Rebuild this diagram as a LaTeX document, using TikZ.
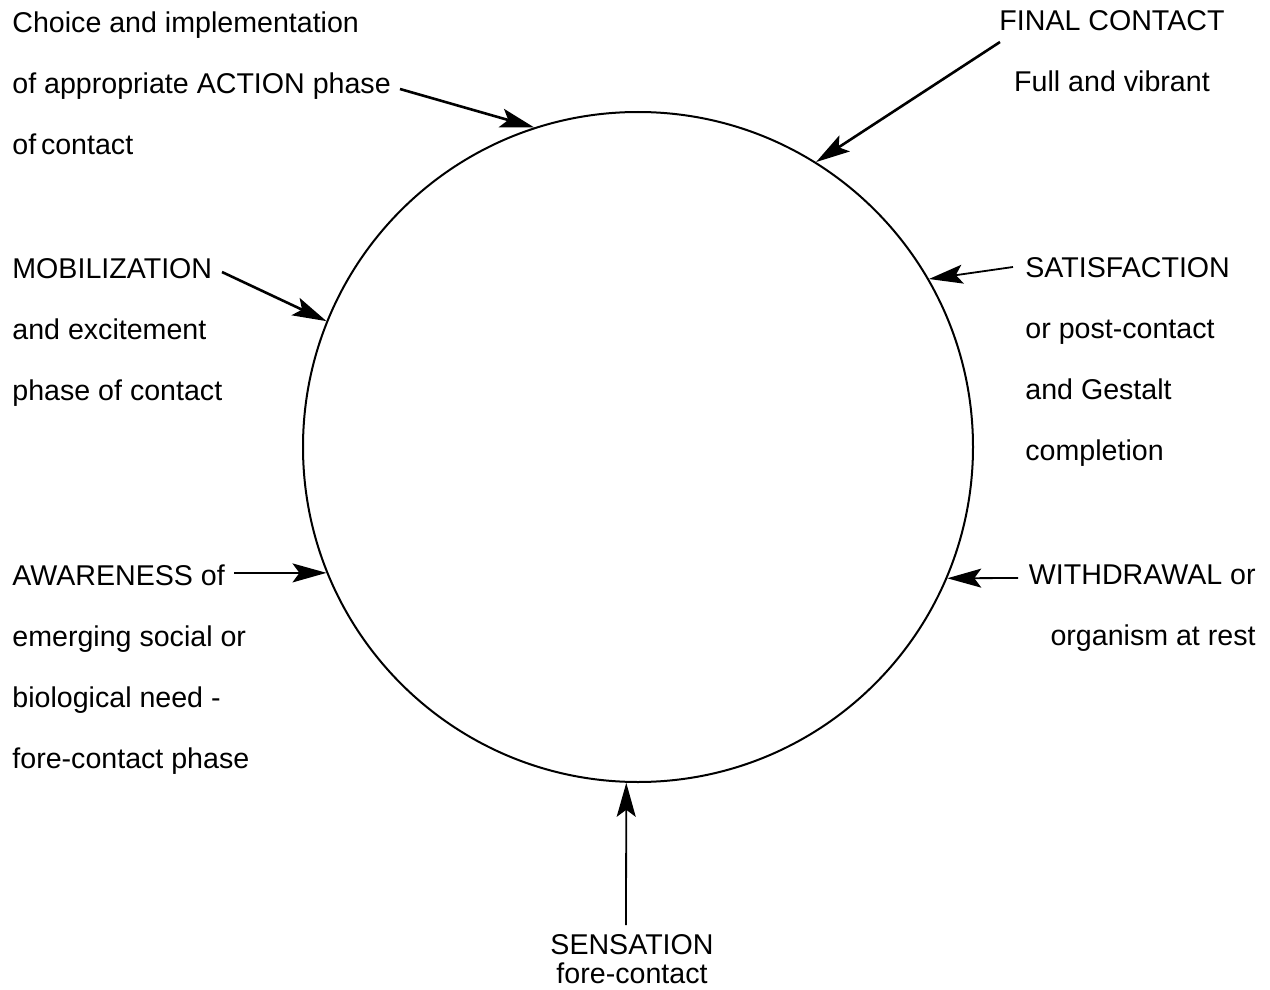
\documentclass[tikz,border=0pt]{standalone}
\usepackage{fontspec}
\setmainfont{Liberation Sans}
\usetikzlibrary{arrows.meta}
\newcommand{\phasefont}{\fontsize{14.3}{30.5}\selectfont}
\tikzset{phasetext/.style={ %{{{
  inner sep=0pt,
  font=\phasefont
}}
%}}}
\tikzset{phasearrow/.style={ %{{{
  -{Stealth[length=17pt,width=9.5pt,inset=3.5pt]},
  line width=0.9pt
}}
%}}}
\tikzset{slantarrow/.style={phasearrow,line width=1.3pt}}

\begin{document}
\begin{tikzpicture}[x=0.5pt,y=-0.5pt]
      \useasboundingbox (0,0) rectangle (1270,990);

      % Cycle {{{
      \node[circle,draw,line width=1pt,minimum size=335pt,inner sep=0pt]
        (cycle) at (638,447) {};
      % }}}

      % Left side (base = last line) {{{
      \node[phasetext,align=left,anchor=base west] (action) at (12,155)
        {Choice and implementation\\of appropriate ACTION phase\\of\,contact};
      \node[phasetext,align=left,anchor=base west] (mobil) at (12,400)
        {MOBILIZATION\\and excitement\\phase of contact};
      \node[phasetext,align=left,anchor=base west] (aware) at (12,768)
        {AWARENESS of\\emerging social or\\biological need -\\fore-contact phase};
      \coordinate (action-from) at (400,89);
      \coordinate (mobil-from) at (222,272);
      \coordinate (aware-from) at (234,573);
      % }}}

      % Right side {{{
      \node[phasetext,align=center,anchor=base] (final) at (1112,92)
        {FINAL CONTACT\\Full and vibrant};
      \node[phasetext,align=left,anchor=base west] (satis) at (1025,460)
        {SATISFACTION\\ or post-contact\\and Gestalt\\completion};
      \node[phasetext,align=right,anchor=base east] (withdr) at (1256,645)
        {WITHDRAWAL or\\organism at rest};
      \coordinate (final-from) at (1000,42);
      \coordinate (satis-from) at (1013,267);
      \coordinate (withdr-from) at (1018,578);
      % }}}

      % Bottom {{{
      \node[phasetext,font=\fontsize{14.3}{14.5}\selectfont,align=center,anchor=base]
        (sens) at (632,983) {SENSATION\\fore-contact};
      \coordinate (sens-from) at (626,925);
      % }}}

      \draw[slantarrow] (action-from) -- (cycle.108);
      \draw[slantarrow] (final-from) -- (cycle.58);
      \draw[slantarrow] (mobil-from) -- (cycle.158);
      \draw[phasearrow] (satis-from) -- (cycle.30);
      \draw[phasearrow] (aware-from) -- (cycle.202);
      \draw[phasearrow] (withdr-from) -- (cycle.-23);
      \draw[phasearrow] (sens-from) -- (cycle.268);

\end{tikzpicture}
\end{document}
